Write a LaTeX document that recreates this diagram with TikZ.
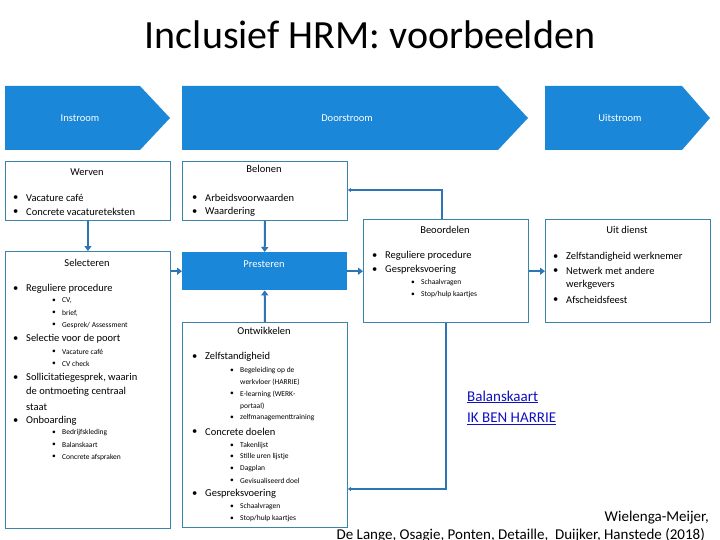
\documentclass[tikz,border=0pt]{standalone}
\usepackage{fontspec}
\setmainfont{Carlito}
\usetikzlibrary{arrows.meta}
\definecolor{hblue}{HTML}{1A87D8}
\definecolor{abl}{HTML}{2E75B6}
\definecolor{bord}{HTML}{3A84AA}
\definecolor{lnk}{HTML}{1010C0}
\begin{document}
\begin{tikzpicture}[x=1pt,y=-1pt,
  chev/.style={fill=hblue,draw=none},
  box/.style={draw=bord,line width=0.9pt,fill=white},
  conn/.style={draw=abl,line width=2pt,-{Triangle[length=5pt,width=7pt]}},
  hd/.style={font=\fontsize{10.5}{12}\selectfont,anchor=center},
  bt/.style={font=\fontsize{10.5}{12}\selectfont,anchor=west,inner sep=0pt},
  st/.style={font=\fontsize{7.5}{9}\selectfont,anchor=west,inner sep=0pt}]
\useasboundingbox (0,0) rectangle (720,540);
\node[font=\fontsize{40}{44}\selectfont] (title) at (370,35) {Inclusief HRM: voorbeelden};
% chevrons
\fill[chev] (5,86) -- (140,86) -- (170,118) -- (140,150) -- (5,150) -- cycle;
\fill[chev] (182,86) -- (498,86) -- (528,118) -- (498,150) -- (182,150) -- cycle;
\fill[chev] (545,86) -- (682,86) -- (710,118) -- (682,150) -- (545,150) -- cycle;
\node[text=white,font=\fontsize{10.5}{12}\selectfont] (ci) at (80,118) {Instroom};
\node[text=white,font=\fontsize{10.5}{12}\selectfont] (cd) at (347,118) {Doorstroom};
\node[text=white,font=\fontsize{10.5}{12}\selectfont] (cu) at (620,118) {Uitstroom};
% boxes
\node[box,minimum width=165pt,minimum height=59pt,anchor=north west] (werv) at (5,161) {};
\node[box,minimum width=165pt,minimum height=59pt,anchor=north west] (bel) at (182,161) {};
\node[box,minimum width=165pt,minimum height=277pt,anchor=north west] (sel) at (5,251) {};
\node[fill=hblue,minimum width=165pt,minimum height=38pt,anchor=north west] (pres) at (182,252) {};
\node[box,minimum width=165pt,minimum height=205pt,anchor=north west] (ont) at (182,322) {};
\node[box,minimum width=165pt,minimum height=103pt,anchor=north west] (beo) at (363,219) {};
\node[box,minimum width=165pt,minimum height=103pt,anchor=north west] (uit) at (545,219) {};
% connectors
\draw[conn] (werv.south) -- (sel.north);
\draw[conn] (bel.south) -- (pres.north);
\draw[conn] (ont.north) -- (pres.south);
\draw[conn] (sel.east|-pres.east) -- (pres.west);
\draw[conn] (pres.east) -- (beo.west|-pres.east);
\draw[conn] (beo.east|-pres.east) -- (uit.west|-pres.east);
\coordinate (b1) at (442,190);
\coordinate (b2) at (446,489);
\draw[conn,line width=1.5pt,-{Triangle[length=3pt,width=4pt]}] (beo.north-|b1) -- (b1) -- (bel.east|-b1);
\draw[conn,line width=1.5pt,-{Triangle[length=3pt,width=4pt]}] (beo.south-|b2) -- (b2) -- (ont.east|-b2);
% texts
\newcommand\Bl[4][bt]{\node[#1] at (#2,#3) {\textbullet}; \node[#1] at (#2+13,#3) {#4};}
\newcommand\Sb[3]{\node[st] at (#1,#2) {\textbullet}; \node[st] at (#1+10,#2) {#3};}
\node[hd] (hwerv) at (87,172) {Werven};
\Bl{13}{198}{Vacature café}
\Bl{13}{212}{Concrete vacatureteksten}
\node[hd] (hbel) at (264,169) {Belonen};
\Bl{192}{198}{Arbeidsvoorwaarden}
\Bl{192}{212}{Waardering}
\node[hd] (hsel) at (87,263) {Selecteren};
\Bl{13}{289}{Reguliere procedure}
\Sb{52}{301}{CV,}
\Sb{52}{313}{brief,}
\Sb{52}{325}{Gesprek/ Assessment}
\Bl{13}{339}{Selectie voor de poort}
\Sb{52}{352}{Vacature café}
\Sb{52}{364}{CV check}
\Bl{13}{378}{Sollicitatiegesprek, waarin}
\node[bt] at (26,392) {de ontmoeting centraal};
\node[bt] at (26,407) {staat};
\Bl{13}{421}{Onboarding}
\Sb{52}{433}{Bedrijfskleding}
\Sb{52}{445}{Balanskaart}
\Sb{52}{457}{Concrete afspraken}
\node[hd,text=white] (hpres) at (264,264) {Presteren};
\node[hd] (hont) at (264,331) {Ontwikkelen};
\Bl{192}{357}{Zelfstandigheid}
\Sb{230}{371}{Begeleiding op de}
\node[st] at (240,382) {werkvloer (HARRIE)};
\Sb{230}{394}{E-learning (WERK-}
\node[st] at (240,406) {portaal)};
\Sb{230}{418}{zelfmanagementtraining}
\Bl{192}{432}{Concrete doelen}
\Sb{230}{446}{Takenlijst}
\Sb{230}{457}{Stille uren lijstje}
\Sb{230}{469}{Dagplan}
\Sb{230}{481}{Gevisualiseerd doel}
\Bl{192}{494}{Gespreksvoering}
\Sb{230}{507}{Schaalvragen}
\Sb{230}{519}{Stop/hulp kaartjes}
\node[hd] (hbeo) at (445,230) {Beoordelen};
\Bl{372}{256}{Reguliere procedure}
\Bl{372}{270}{Gespreksvoering}
\Sb{411}{283}{Schaalvragen}
\Sb{411}{295}{Stop/hulp kaartjes}
\node[hd] (huit) at (627,230) {Uit dienst};
\Bl{553}{257}{Zelfstandigheid werknemer}
\Bl{553}{271}{Netwerk met andere}
\node[bt] at (566,285) {werkgevers};
\Bl{553}{300}{Afscheidsfeest}
\node[anchor=west,inner sep=0pt,text=lnk,font=\fontsize{15}{17}\selectfont] (l1) at (467,397) {\underline{Balanskaart}};
\node[anchor=west,inner sep=0pt,text=lnk,font=\fontsize{15}{17}\selectfont] (l2) at (467,419) {\underline{IK BEN HARRIE}};
\node[anchor=east,inner sep=0pt,font=\fontsize{15}{17}\selectfont] (c1) at (709,518) {Wielenga-Meijer,};
\node[anchor=east,inner sep=0pt,font=\fontsize{15}{17}\selectfont] (c2) at (705,535) {De Lange, Osagie, Ponten, Detaille,\ \ Duijker, Hanstede (2018)};
\end{tikzpicture}
\end{document}
